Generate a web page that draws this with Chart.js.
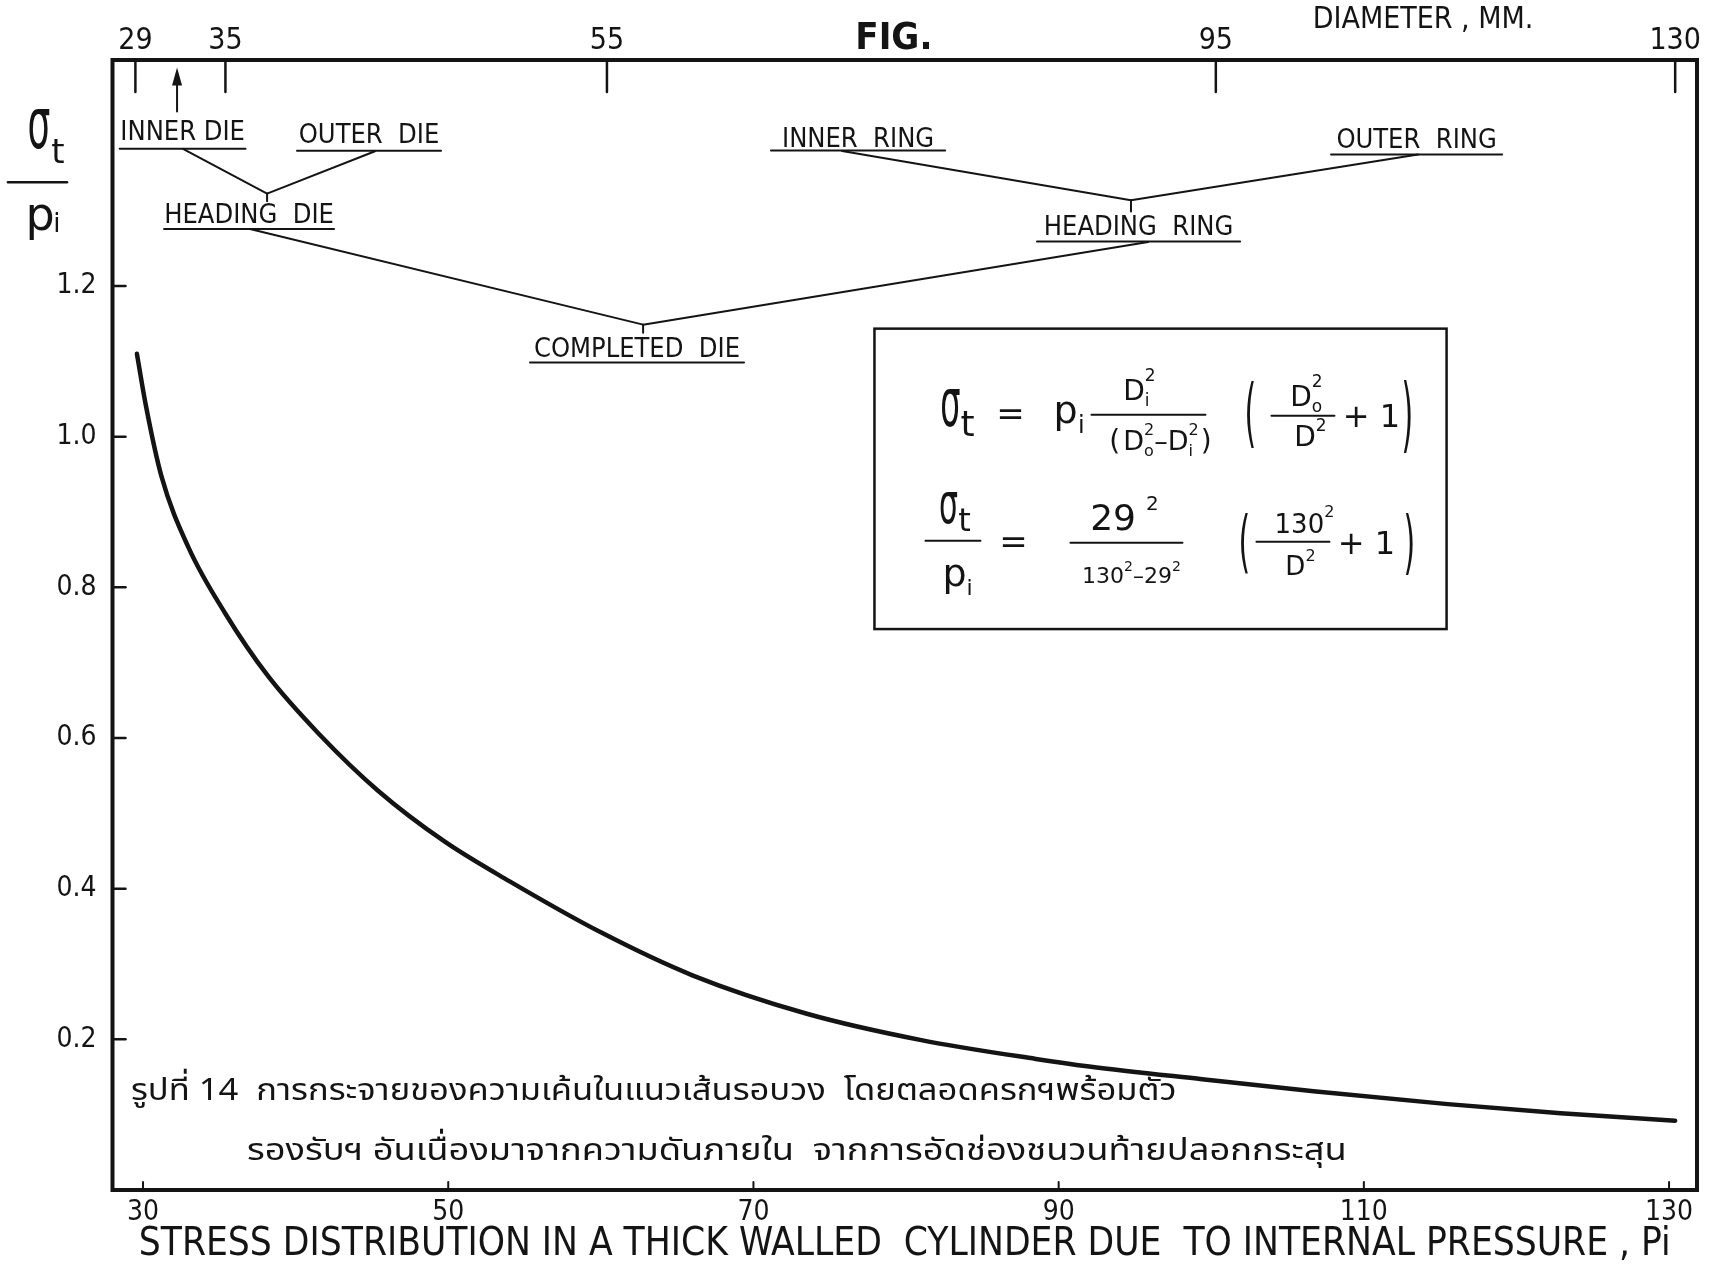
<!DOCTYPE html>
<html>
<head>
<meta charset="utf-8">
<script src="https://cdn.jsdelivr.net/npm/chart.js@4.4.0/dist/chart.umd.min.js"></script>
<style>
  html, body { margin: 0; padding: 0; background: #fff; }
  #wrap { width: 1713px; height: 1271px; }
</style>
</head>
<body>
<div id="wrap"><canvas id="graph"></canvas></div>
<script>
// data
const diameter    = [29.6, 30.2, 31.2, 33, 35.4, 38.2, 41.5, 45.4, 49.8, 54, 60, 66, 73.5, 81, 88.5, 92, 99.4, 106.7, 115.5, 122.9, 130.4];
const stressRatio = [1.11, 1.04, 0.948, 0.852, 0.765, 0.682, 0.606, 0.53, 0.462, 0.41, 0.342, 0.285, 0.234, 0.199, 0.174, 0.164, 0.147, 0.131, 0.114, 0.102, 0.092];

const xTicks = [30, 50, 70, 90, 110, 130];
const yTicks = [0.2, 0.4, 0.6, 0.8, 1.0, 1.2];
// the diameter scale on top is hand placed, so its marks sit where the drawing has them
const topTickPos    = [29.5, 35.4, 60.4, 100.3, 130.4];
const topTickLabels = ['29', '35', '55', '95', '130'];

const INK  = '#141414';
const FONT = '"DejaVu Sans Condensed", "DejaVu Sans", sans-serif';
const MATH = '"DejaVu Sans", sans-serif';
const THAI = '"Noto Sans Thai", "Noto Sans Thai Looped", Loma, Garuda, Norasi, "DejaVu Sans", sans-serif';

// tree of labels: text, x from, x to, baseline, underline (data units)
const labels = [
  ['INNER DIE',      28.47, 36.72, 1.3944, 1.3821],
  ['OUTER  DIE',     40.09, 49.53, 1.3904, 1.3795],
  ['HEADING  DIE',   31.38, 42.52, 1.2842, 1.2756],
  ['COMPLETED  DIE', 55.36, 69.38, 1.1062, 1.0983],
  ['INNER  RING',    71.15, 82.56, 1.3851, 1.3798],
  ['OUTER  RING',   107.85, 119.06, 1.3838, 1.3745],
  ['HEADING  RING',  88.58, 101.89, 1.2683, 1.2590]
];
const links = [
  [[32.62, 1.3821], [38.13, 1.3227]],
  [[45.20, 1.3789], [38.13, 1.3227]],
  [[38.13, 1.3227], [38.13, 1.3125]],
  [[37.01, 1.2756], [62.77, 1.1487]],
  [[62.77, 1.1487], [62.77, 1.1381]],
  [[62.77, 1.1487], [95.86, 1.2583]],
  [[75.81, 1.3792], [94.74, 1.3138]],
  [[113.55, 1.3745], [94.74, 1.3138]],
  [[94.74, 1.3138], [94.74, 1.2988]]
];
const formulaBox = [[77.93, 1.1434], [115.42, 0.7446]];

const caption1 = 'รูปที่ 14  การกระจายของความเค้นในแนวเส้นรอบวง  โดยตลอดครกฯพร้อมตัว';
const caption2 = 'รองรับฯ อันเนื่องมาจากความดันภายใน  จากการอัดช่องชนวนท้ายปลอกกระสุน';

function txt(ctx, s, x, y, size, o) {
  o = o || {};
  ctx.save();
  ctx.font = (o.weight || 'normal') + ' ' + size + 'px ' + (o.family || FONT);
  ctx.textAlign = o.align || 'center';
  ctx.textBaseline = o.base || 'alphabetic';
  ctx.translate(x, y);
  ctx.scale(o.sx || 1, o.sy || 1);
  ctx.fillStyle = INK;
  ctx.fillText(s, 0, 0);
  ctx.restore();
}

// text with sub/superscripts, parts are drawn one after another
function rich(ctx, parts, x, y) {
  let pos = 0, prevStart = 0;
  const laid = parts.map(p => {
    ctx.font = p.s + 'px ' + MATH;
    const w = ctx.measureText(p.t).width;
    const start = p.stack ? prevStart : pos + (p.gap || 0);
    prevStart = start;
    pos = Math.max(pos, start + w);
    return { p, start };
  });
  const x0 = x - pos / 2;
  ctx.save();
  ctx.fillStyle = INK;
  ctx.textAlign = 'left';
  ctx.textBaseline = 'alphabetic';
  laid.forEach(({ p, start }) => {
    ctx.font = p.s + 'px ' + MATH;
    ctx.fillText(p.t, x0 + start, y + (p.dy || 0));
  });
  ctx.restore();
}

function line(ctx, x1, y1, x2, y2, w) {
  ctx.save();
  ctx.strokeStyle = INK;
  ctx.lineWidth = w;
  ctx.lineCap = 'round';
  ctx.beginPath();
  ctx.moveTo(x1, y1);
  ctx.lineTo(x2, y2);
  ctx.stroke();
  ctx.restore();
}

function paren(ctx, ch, cx, cy, h) {
  ctx.save();
  ctx.font = '40px ' + MATH;
  ctx.textAlign = 'center';
  ctx.textBaseline = 'middle';
  ctx.fillStyle = INK;
  ctx.translate(cx, cy);
  ctx.scale(0.75, h / 40);
  ctx.fillText(ch, 0, 2);
  ctx.restore();
}

function drawFormula(ctx, bx, by) {
  const T = (s, x, y, size, o) => txt(ctx, s, bx + x, by + y, size, Object.assign({ family: MATH }, o));
  const L = (x1, x2, y) => line(ctx, bx + x1, by + y, bx + x2, by + y, 2);
  const R = (parts, x, y) => rich(ctx, parts, bx + x, by + y);

  // first row
  T('σ', 76, 97, 32, { sy: 2.1 });
  T('t', 93, 107, 36);
  T('=', 136, 96, 34);
  T('p', 191, 94, 38);
  T('i', 207, 104, 24);
  L(217, 331, 86);
  R([{ t: 'D', s: 28 }, { t: 'i', s: 17, dy: 6 }, { t: '2', s: 17, dy: -19, stack: true }], 265, 71);
  R([{ t: '(', s: 28 }, { t: 'D', s: 27, gap: 3 }, { t: 'o', s: 16, dy: 6 }, { t: '2', s: 16, dy: -15, stack: true },
     { t: '–', s: 27 }, { t: 'D', s: 27 }, { t: 'i', s: 16, dy: 6 }, { t: '2', s: 16, dy: -15, stack: true }, { t: ')', s: 28, gap: 2 }], 286, 121);
  paren(ctx, '(', bx + 376, by + 86, 75);
  L(397, 460, 87);
  R([{ t: 'D', s: 28 }, { t: 'o', s: 17, dy: 6 }, { t: '2', s: 17, dy: -19, stack: true }], 432, 77);
  R([{ t: 'D', s: 28 }, { t: '2', s: 17, dy: -15 }], 436, 117);
  T('+ 1', 497, 98, 32);
  paren(ctx, ')', bx + 533, by + 88, 82);

  // second row
  T('σ', 74, 194, 30, { sy: 1.9 });
  T('t', 90, 202, 32);
  L(51, 106, 212);
  T('p', 80, 257, 38);
  T('i', 95, 266, 22);
  T('=', 139, 224, 34);
  R([{ t: '29', s: 36 }, { t: '2', s: 20, dy: -20, gap: 10 }], 250, 201);
  L(196, 308, 214);
  R([{ t: '130', s: 22 }, { t: '2', s: 14, dy: -12 }, { t: '–', s: 22 }, { t: '29', s: 22 }, { t: '2', s: 14, dy: -12 }], 257, 254);
  paren(ctx, '(', bx + 370, by + 215, 68);
  L(382, 455, 213);
  R([{ t: '130', s: 26 }, { t: '2', s: 16, dy: -16 }], 430, 204);
  R([{ t: 'D', s: 26 }, { t: '2', s: 16, dy: -14 }], 426, 246);
  T('+ 1', 492, 225, 32);
  paren(ctx, ')', bx + 535, by + 216, 70);
}

const decorations = {
  id: 'decorations',
  afterDatasetsDraw(chart) {
    const ctx = chart.ctx;
    const xs = chart.scales.x, ys = chart.scales.y;
    const P = (d, v) => [xs.getPixelForValue(d), ys.getPixelForValue(v)];
    const a = chart.chartArea;

    // frame
    ctx.save();
    ctx.strokeStyle = INK;
    ctx.lineWidth = 4;
    ctx.strokeRect(a.left, a.top, a.right - a.left, a.bottom - a.top);
    ctx.restore();

    // inward tick marks
    yTicks.forEach(v => { const y = ys.getPixelForValue(v); line(ctx, a.left, y, a.left + 13, y, 2.5); });
    xTicks.forEach(d => { const x = xs.getPixelForValue(d); line(ctx, x, a.bottom, x, a.bottom - 8, 2); });
    topTickPos.forEach(d => { const x = xs.getPixelForValue(d); line(ctx, x, a.top, x, a.top + 32, 2.5); });

    // arrow under the 29 / 35 marks
    const [ax, ay1] = P(32.23, 1.4316);
    const [, ay2] = P(32.23, 1.49);
    line(ctx, ax, ay1, ax, ay2 + 10, 2);
    ctx.save();
    ctx.fillStyle = INK;
    ctx.beginPath();
    ctx.moveTo(ax, ay2);
    ctx.lineTo(ax - 5, ay2 + 18);
    ctx.lineTo(ax + 5, ay2 + 18);
    ctx.closePath();
    ctx.fill();
    ctx.restore();

    // label tree
    labels.forEach(([s, d1, d2, base, ul]) => {
      const [x1, yb] = P(d1, base);
      const [x2, yu] = P(d2, ul);
      ctx.save();
      ctx.font = '27px ' + FONT;
      ctx.fillStyle = INK;
      ctx.textAlign = 'center';
      ctx.fillText(s, (x1 + x2) / 2, yb, x2 - x1);
      ctx.restore();
      line(ctx, x1, yu, x2, yu, 2);
    });
    links.forEach(([p, q]) => {
      const [x1, y1] = P(p[0], p[1]);
      const [x2, y2] = P(q[0], q[1]);
      line(ctx, x1, y1, x2, y2, 2);
    });

    // formula box
    const [bx1, by1] = P(formulaBox[0][0], formulaBox[0][1]);
    const [bx2, by2] = P(formulaBox[1][0], formulaBox[1][1]);
    ctx.save();
    ctx.strokeStyle = INK;
    ctx.lineWidth = 2.5;
    ctx.strokeRect(bx1, by1, bx2 - bx1, by2 - by1);
    ctx.restore();
    drawFormula(ctx, bx1, by1);

    // Thai caption
    const [c1x, c1y] = P(29.21, 0.1195);
    const [c2x, c2y] = P(36.81, 0.0398);
    txt(ctx, caption1, c1x, c1y, 31, { family: THAI, align: 'left', sx: 1.115 });
    txt(ctx, caption2, c2x, c2y, 31, { family: THAI, align: 'left', sx: 1.17 });

    // heading texts above the frame
    const [fx, fy] = P(79.2, 1.515);
    txt(ctx, 'FIG.', fx, fy, 38, { weight: 'bold' });
    const [dx, dy] = P(113.88, 1.543);
    txt(ctx, 'DIAMETER , MM.', dx, dy, 30);

    // y quantity sigma_t / p_i at the left
    const [sx, sy] = P(23.18, 1.3838);
    txt(ctx, 'σ', sx, sy, 36, { family: MATH, sy: 2.0 });
    const [tx, ty] = P(24.43, 1.3639);
    txt(ctx, 't', tx, ty, 34, { family: MATH });
    const [lx1, ly] = P(21.15, 1.3377);
    const [lx2] = P(25.02, 1.3377);
    line(ctx, lx1, ly, lx2, ly, 2.5);
    const [px, py] = P(23.25, 1.2749);
    txt(ctx, 'p', px, py, 46, { family: MATH });
    const [ix, iy] = P(24.36, 1.272);
    txt(ctx, 'i', ix, iy, 26, { family: MATH });
  }
};

new Chart(document.getElementById('graph'), {
  type: 'line',
  data: {
    datasets: [{
      data: diameter.map((d, i) => ({ x: d, y: stressRatio[i] })),
      borderColor: INK,
      borderWidth: 4.5,
      borderCapStyle: 'round',
      pointRadius: 0,
      fill: false,
      cubicInterpolationMode: 'monotone'
    }]
  },
  options: {
    responsive: true,
    maintainAspectRatio: false,
    animation: false,
    layout: { padding: { left: 0, right: 16, top: 0, bottom: 0 } },
    plugins: { legend: { display: false }, tooltip: { enabled: false } },
    scales: {
      x: {
        type: 'linear', position: 'bottom', min: 28, max: 131.83,
        grid: { display: false, drawTicks: false }, border: { display: false },
        afterBuildTicks: s => { s.ticks = xTicks.map(v => ({ value: v })); },
        afterFit: s => { s.height = 81; },
        ticks: { padding: 6, color: INK, autoSkip: false, maxRotation: 0, font: { family: FONT, size: 28 } },
        title: {
          display: true,
          text: 'STRESS DISTRIBUTION IN A THICK WALLED  CYLINDER DUE  TO INTERNAL PRESSURE , Pi',
          color: INK, font: { family: FONT, size: 38.5 }, padding: { top: 0, bottom: 3 }
        }
      },
      x2: {
        type: 'linear', position: 'top', min: 28, max: 131.83,
        grid: { display: false, drawTicks: false }, border: { display: false },
        afterBuildTicks: s => { s.ticks = topTickPos.map(v => ({ value: v })); },
        afterFit: s => { s.height = 60; },
        ticks: { padding: 1, color: INK, autoSkip: false, maxRotation: 0, font: { family: FONT, size: 30 },
                 callback: (v, i) => topTickLabels[i] }
      },
      y: {
        min: 0, max: 1.5,
        grid: { display: false, drawTicks: false }, border: { display: false },
        afterBuildTicks: s => { s.ticks = yTicks.map(v => ({ value: v })); },
        afterFit: s => { s.width = 112.5; },
        ticks: { padding: 16, color: INK, font: { family: FONT, size: 28 }, callback: v => v.toFixed(1) }
      }
    }
  },
  plugins: [decorations]
});
</script>
</body>
</html>
